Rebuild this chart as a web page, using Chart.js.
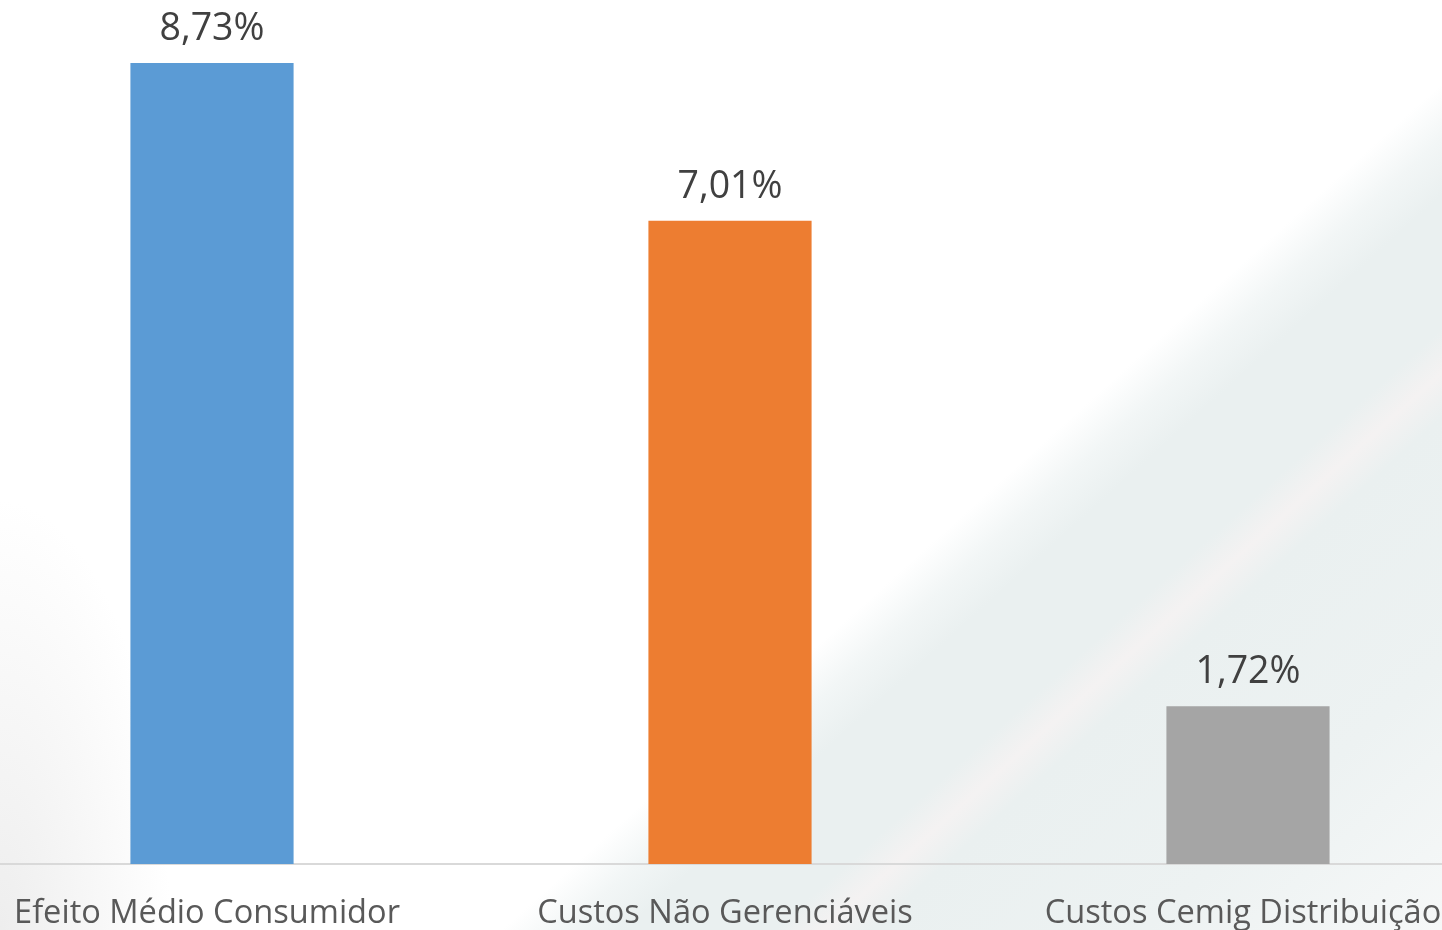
<!DOCTYPE html>
<html lang="pt-BR">
<head>
<meta charset="utf-8">
<title>Reajuste tarifário</title>
<script src="https://cdn.jsdelivr.net/npm/chart.js@4.4.1/dist/chart.umd.min.js"></script>
<style>
  html, body {
    margin: 0;
    padding: 0;
    width: 1442px;
    height: 930px;
    overflow: hidden;
  }
  body {
    position: relative;
    background:
      radial-gradient(ellipse 170px 430px at 0 100%, rgba(232,232,232,0.75), rgba(255,255,255,0) 100%),
      linear-gradient(138deg,
        #ffffff 0%,
        #ffffff 62%,
        #f2f6f6 64.5%,
        #eaf0f0 67%,
        #eaf0f0 73%,
        #f4f2f2 75%,
        #eaf0f0 77%,
        #edf2f2 88%,
        #f6f8f8 100%);
  }
  #wrap {
    position: absolute;
    left: -47.5px;
    top: 0;
    width: 1554px;
    height: 930px;
  }
</style>
</head>
<body>
<div id="wrap"><canvas id="grafico"></canvas></div>
<script>
// Dados do gráfico
const categorias = ['Efeito Médio Consumidor', 'Custos Não Gerenciáveis', 'Custos Cemig Distribuição'];
const valores = [8.73, 7.01, 1.72];
const cores = ['#5b9bd5', '#ed7d31', '#a5a5a5'];

// Formata o número no padrão brasileiro: 8,73%
function formatarPercentual(v) {
    return v.toFixed(2).replace('.', ',') + '%';
}

// Plugin simples para escrever o valor acima de cada barra
const rotulosValores = {
    id: 'rotulosValores',
    afterDatasetsDraw(chart) {
        const ctx = chart.ctx;
        const meta = chart.getDatasetMeta(0);
        ctx.save();
        ctx.font = '37.5px "Open Sans"';
        ctx.fillStyle = '#404040';
        ctx.textAlign = 'center';
        ctx.textBaseline = 'middle';
        meta.data.forEach((barra, i) => {
            ctx.fillText(formatarPercentual(valores[i]), barra.x, barra.y - 34);
        });
        ctx.restore();
    }
};

const ctx = document.getElementById('grafico').getContext('2d');
const grafico = new Chart(ctx, {
    type: 'bar',
    data: {
        labels: categorias,
        datasets: [{
            data: valores,
            backgroundColor: cores,
            borderWidth: 0,
            categoryPercentage: 1,
            barPercentage: 0.315
        }]
    },
    options: {
        responsive: true,
        maintainAspectRatio: false,
        animation: false,
        layout: { padding: 0 },
        plugins: {
            legend: { display: false },
            tooltip: { enabled: false }
        },
        scales: {
            x: {
                grid: { display: false, drawTicks: false },
                border: { display: true, color: '#d9d9d9', width: 2 },
                ticks: {
                    color: '#595959',
                    font: { family: 'Open Sans', size: 32.6 },
                    padding: 30,
                    labelOffset: -5,
                    maxRotation: 0,
                    autoSkip: false
                },
                // eixo com altura fixa, linha de base em y = 864
                afterFit(scale) {
                    scale.height = 66;
                }
            },
            y: {
                display: false,
                min: 0,
                max: 9.417
            }
        }
    },
    plugins: [rotulosValores]
});
</script>
</body>
</html>
